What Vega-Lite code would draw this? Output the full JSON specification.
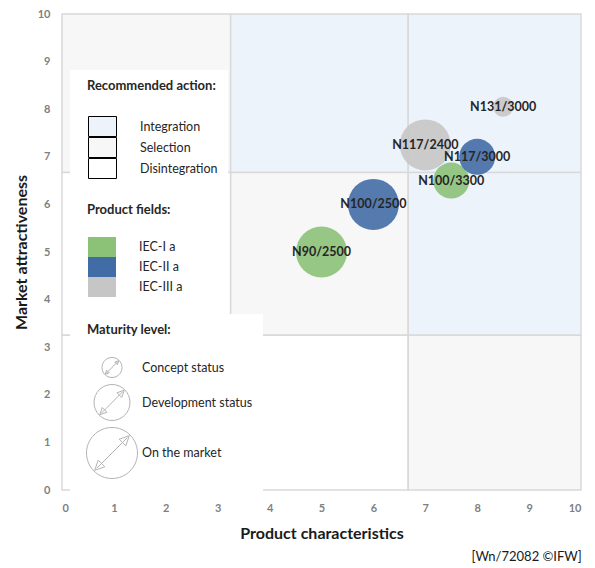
{
  "$schema": "https://vega.github.io/schema/vega-lite/v6.json",
  "width": 519,
  "height": 476,
  "autosize": {"type": "none"},
  "padding": {"left": 62, "top": 14, "right": 14, "bottom": 78},
  "config": {"view": {"stroke": null}, "font": "Lato"},
  "title": {"text": "[Wn/72082 ©IFW]", "orient": "bottom", "anchor": "end", "fontSize": 13, "fontWeight": "normal", "color": "#1a1a1a", "offset": 10, "font": "Lato"},
  "datasets": {
    "regions": [
      {"x": 0, "x2": 3.25, "y": 6.67, "y2": 10, "action": "Selection"},
      {"x": 3.25, "x2": 6.67, "y": 6.67, "y2": 10, "action": "Integration"},
      {"x": 6.67, "x2": 10, "y": 6.67, "y2": 10, "action": "Integration"},
      {"x": 0, "x2": 3.25, "y": 3.25, "y2": 6.67, "action": "Disintegration"},
      {"x": 3.25, "x2": 6.67, "y": 3.25, "y2": 6.67, "action": "Selection"},
      {"x": 6.67, "x2": 10, "y": 3.25, "y2": 6.67, "action": "Integration"},
      {"x": 0, "x2": 3.25, "y": 0, "y2": 3.25, "action": "Disintegration"},
      {"x": 3.25, "x2": 6.67, "y": 0, "y2": 3.25, "action": "Disintegration"},
      {"x": 6.67, "x2": 10, "y": 0, "y2": 3.25, "action": "Selection"}
    ],
    "products": [
      {"product": "N90/2500", "field": "IEC-I a", "maturity": "On the market", "x": 5, "y": 5},
      {"product": "N100/2500", "field": "IEC-II a", "maturity": "On the market", "x": 6, "y": 6},
      {"product": "N117/2400", "field": "IEC-III a", "maturity": "On the market", "x": 7, "y": 7.25},
      {"product": "N100/3300", "field": "IEC-I a", "maturity": "Development status", "x": 7.5, "y": 6.5},
      {"product": "N117/3000", "field": "IEC-II a", "maturity": "Development status", "x": 8, "y": 7},
      {"product": "N131/3000", "field": "IEC-III a", "maturity": "Concept status", "x": 8.5, "y": 8.05}
    ]
  },
  "encoding": {
    "x": {
      "field": "x", "type": "quantitative",
      "scale": {"domain": [0, 10], "nice": false, "zero": false},
      "axis": {"title": "Product characteristics", "values": [0,1,2,3,4,5,6,7,8,9,10], "grid": false, "ticks": false, "domain": false,
        "labelColor": "#7f7f7f", "labelFontWeight": "bold", "labelFontSize": 11, "labelPadding": 12,
        "titleFontSize": 16, "titleFontWeight": "bold", "titleColor": "#1a1a1a", "titlePadding": 12}
    },
    "y": {
      "field": "y", "type": "quantitative",
      "scale": {"domain": [0, 10], "nice": false, "zero": false},
      "axis": {"title": "Market attractiveness", "values": [0,1,2,3,4,5,6,7,8,9,10], "grid": false, "ticks": false, "domain": false,
        "labelColor": "#7f7f7f", "labelFontWeight": "bold", "labelFontSize": 11, "labelPadding": 12,
        "titleFontSize": 16, "titleFontWeight": "bold", "titleColor": "#1a1a1a", "titlePadding": 8}
    }
  },
  "layer": [
    {
      "data": {"name": "regions"},
      "mark": {"type": "rect", "stroke": "#d9d9d9", "strokeWidth": 1.5},
      "encoding": {
        "x2": {"field": "x2"},
        "y2": {"field": "y2"},
        "fill": {
          "field": "action", "type": "nominal",
          "scale": {"domain": ["Integration", "Selection", "Disintegration"], "range": ["#edf3fa", "#f7f7f7", "#ffffff"]},
          "legend": {
            "title": "Recommended action:", "orient": "none", "legendX": 8, "legendY": 56,
            "fillColor": "white", "padding": 10, "titlePadding": 23, "rowPadding": -2,
            "symbolType": "M-1.4,-1H1.4V1H-1.4Z", "symbolSize": 400,
            "symbolStrokeColor": "black", "symbolStrokeWidth": 1, "symbolOffset": 12, "labelOffset": 27,
            "labelFontSize": 12.5, "labelColor": "#262626", "titleFontSize": 13, "titleFontWeight": "bold", "titleColor": "#262626",
            "encode": {"legend": {"update": {"width": {"value": 183}}}, "title": {"update": {"dx": {"value": 7}}}, "symbols": {"update": {"strokeJoin": {"value": "round"}}}}
          }
        }
      }
    },
    {
      "data": {"name": "products"},
      "mark": {"type": "circle", "opacity": 0.9},
      "encoding": {
        "color": {
          "field": "field", "type": "nominal",
          "scale": {"domain": ["IEC-I a", "IEC-II a", "IEC-III a"], "range": ["#8cc178", "#416ca5", "#c6c6c6"]},
          "legend": {
            "title": "Product fields:", "orient": "none", "legendX": 8, "legendY": 180,
            "fillColor": "white", "padding": 10, "titlePadding": 20, "rowPadding": 0,
            "symbolType": "M-1.4,-1H1.4V1H-1.4Z", "symbolSize": 400, "symbolOpacity": 1,
            "symbolStrokeWidth": 0, "symbolOffset": 12, "labelOffset": 27,
            "labelFontSize": 12.5, "labelColor": "#262626", "titleFontSize": 13, "titleFontWeight": "bold", "titleColor": "#262626",
            "encode": {"legend": {"update": {"width": {"value": 183}}}, "title": {"update": {"dx": {"value": 7}}}}
          }
        },
        "size": {
          "field": "maturity", "type": "nominal",
          "scale": {"type": "ordinal", "domain": ["Concept status", "Development status", "On the market"], "range": [400, 1296, 2601]},
          "legend": {
            "title": "Maturity level:", "orient": "none", "legendX": 8, "legendY": 300,
            "fillColor": "white", "padding": 10, "titlePadding": 20, "rowPadding": 2,
            "symbolOffset": 6,
            "symbolType": "M1,0A1,1,0,1,1,-1,0A1,1,0,1,1,1,0ZM-0.6,0.6L0.6,-0.6M0.68,-0.68L0.28,-0.54L0.54,-0.28ZM-0.68,0.68L-0.28,0.54L-0.54,0.28Z",
            "symbolFillColor": "white", "symbolStrokeColor": "#b3b3b3", "symbolStrokeWidth": 1, "symbolOpacity": 1,
            "labelFontSize": 12.5, "labelColor": "#262626", "titleFontSize": 13, "titleFontWeight": "bold", "titleColor": "#262626",
            "encode": {"legend": {"update": {"width": {"value": 183}}}, "title": {"update": {"dx": {"value": 7}}}}
          }
        }
      }
    },
    {
      "data": {"name": "products"},
      "mark": {"type": "text", "fontWeight": "bold", "fontSize": 12.5, "color": "#262626"},
      "encoding": {"text": {"field": "product"}}
    }
  ]
}
